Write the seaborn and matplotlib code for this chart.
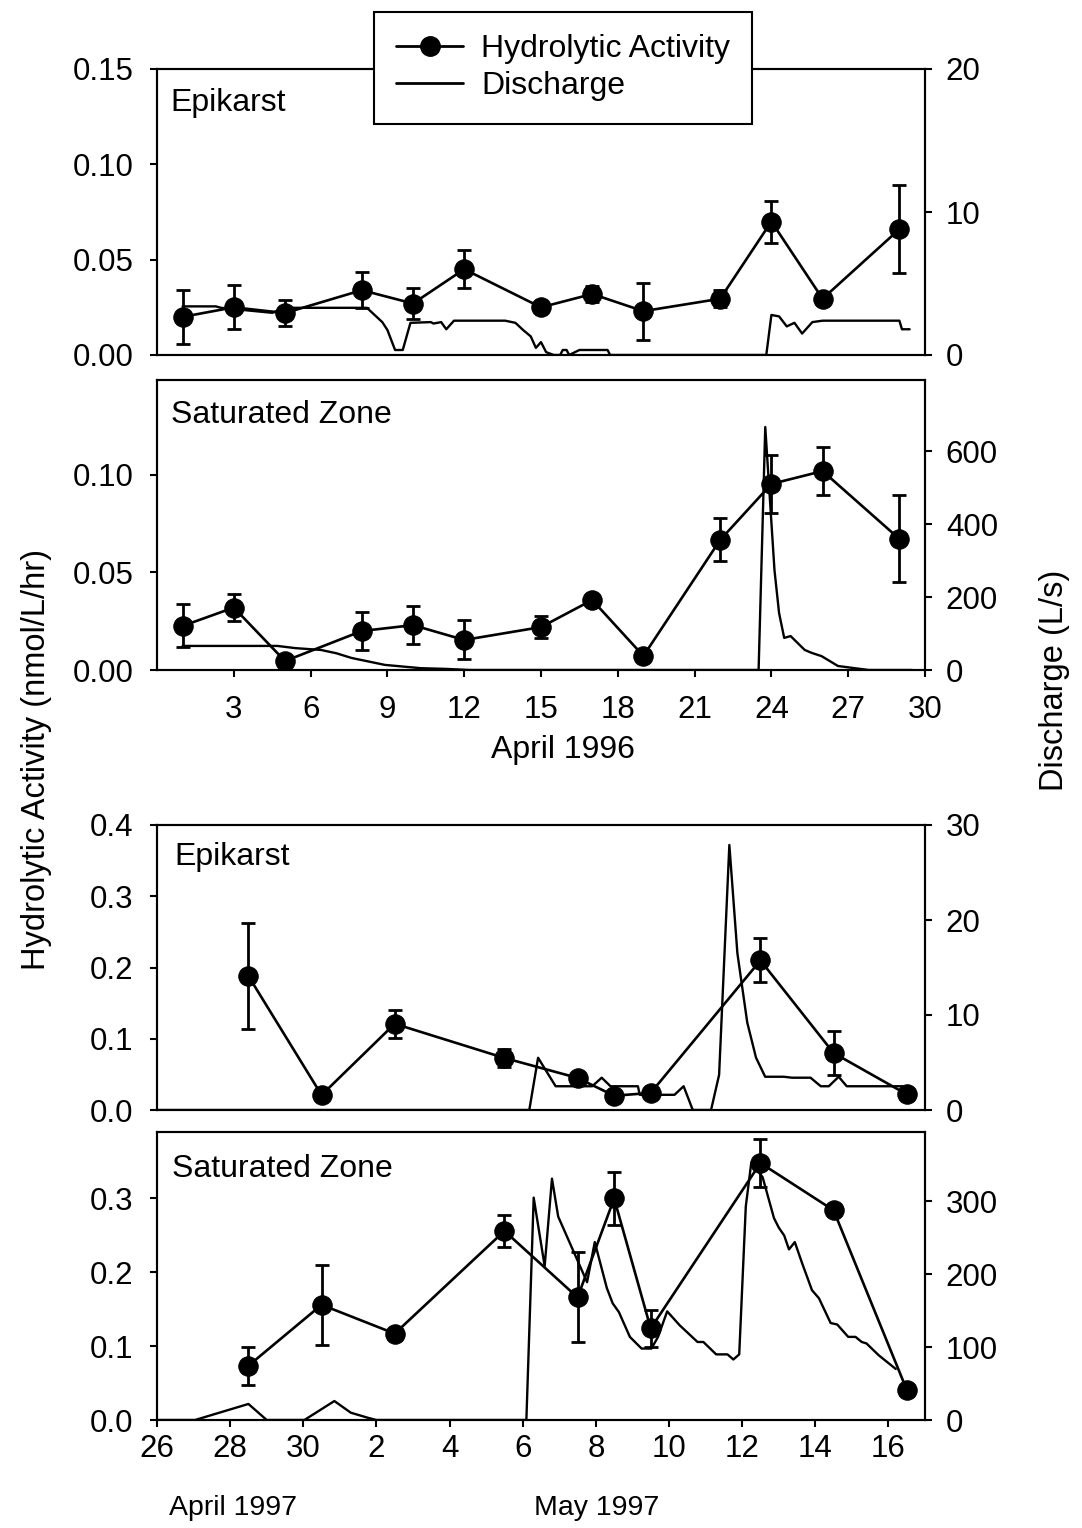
import numpy as np
import pandas as pd
import matplotlib
matplotlib.use("Agg")
import matplotlib.pyplot as plt
from matplotlib.lines import Line2D
import seaborn as sns

# ---------------- data ----------------
# 1996 (day of April)
act_days_96 = [1, 3, 5, 8, 10, 12, 15, 17, 19, 22, 24, 26, 29]
epi_act_96 = [0.020, 0.025, 0.022, 0.034, 0.027, 0.045, 0.025, 0.032, 0.023, 0.0295, 0.070, 0.0295, 0.066]
epi_err_96 = [0.014, 0.0115, 0.0067, 0.0095, 0.008, 0.010, 0.002, 0.004, 0.015, 0.0045, 0.011, 0.001, 0.023]
sat_act_96 = [0.0226, 0.032, 0.0046, 0.020, 0.023, 0.0154, 0.022, 0.0359, 0.0072, 0.0667, 0.0954, 0.102, 0.0672]
sat_err_96 = [0.011, 0.007, 0.001, 0.0097, 0.0097, 0.010, 0.0056, 0.002, 0.002, 0.011, 0.015, 0.0123, 0.0223]

epi_q_days_96 = [1.0, 2.3, 2.5, 4.5, 5.0, 8.2, 8.5, 8.8, 9.0, 9.3, 9.6, 9.9, 10.7, 10.8, 11.1, 11.3, 11.6,
                 13.6, 14.0, 14.3, 14.6, 14.8, 15.0, 15.2, 15.5, 15.75, 15.85, 16.0, 16.1, 16.5, 17.6, 17.7,
                 23.8, 24.0, 24.3, 24.6, 24.9, 25.2, 25.6, 26.0, 29.0, 29.1, 29.4]
epi_q_96 = [3.4, 3.4, 3.3, 2.95, 3.3, 3.3, 2.8, 2.3, 1.75, 0.35, 0.35, 2.25, 2.3, 2.2, 2.3, 1.8, 2.4,
            2.4, 2.25, 1.75, 1.3, 0.5, 0.9, 0.2, 0.0, 0.0, 0.35, 0.35, 0.0, 0.35, 0.35, 0.0,
            0.0, 2.8, 2.7, 2.0, 2.25, 1.5, 2.3, 2.4, 2.4, 1.8, 1.8]

sat_q_days_96 = [1.0, 4.7, 5.4, 6.4, 7.0, 7.6, 8.9, 10.3, 11.3, 12.2, 23.5, 23.76, 24.12, 24.3, 24.5,
                 24.75, 25.3, 25.57, 25.96, 26.6, 27.25, 27.8, 29.5]
sat_q_96 = [66, 66, 60, 55, 46, 33, 14, 5, 3, 0, 0, 666, 274, 156, 88,
            93, 55, 47, 38, 11, 5, 0, 0]

# 1997 (days after 26 April)
act_days_97 = [2.5, 4.5, 6.5, 9.5, 11.5, 12.5, 13.5, 16.5, 18.5, 20.5]
epi_act_97 = [0.188, 0.021, 0.121, 0.073, 0.045, 0.020, 0.024, 0.210, 0.080, 0.022]
epi_err_97 = [0.074, 0.002, 0.020, 0.012, 0.003, 0.002, 0.002, 0.031, 0.031, 0.002]
sat_act_97 = [0.0735, 0.156, 0.117, 0.256, 0.166, 0.300, 0.124, 0.348, 0.284, 0.041]
sat_err_97 = [0.026, 0.054, 0.003, 0.022, 0.061, 0.036, 0.025, 0.033, 0.003, 0.003]

epi_q_days_97 = [0, 10.18, 10.42, 10.9, 11.9, 12.16, 12.4, 13.15, 13.2, 14.15, 14.4, 14.65, 15.15, 15.37,
                 15.65, 15.87, 16.14, 16.38, 16.63, 17.14, 17.36, 17.87, 18.15, 18.37, 18.64, 18.86, 20.4]
epi_q_97 = [0, 0, 5.5, 2.5, 2.5, 3.4, 2.5, 2.5, 1.6, 1.6, 2.5, 0, 0, 3.7,
            27.9, 16.5, 9.2, 5.5, 3.5, 3.5, 3.4, 3.4, 2.5, 2.5, 3.5, 2.5, 2.5]

sat_q_days_97 = [0, 1.04, 2.5, 3.0, 4.03, 4.85, 5.3, 5.77, 6.0, 10.1, 10.3, 10.6, 10.8, 10.97, 11.76,
                 11.97, 12.3, 12.46, 12.63, 12.93, 13.25, 13.52, 13.7, 13.95, 14.29, 14.78, 14.94,
                 15.29, 15.6, 15.76, 15.92, 16.1, 16.25, 16.56, 16.87, 17.0, 17.15, 17.28, 17.44,
                 17.64, 17.91, 18.1, 18.42, 18.6, 18.9, 19.1, 19.27, 19.4, 19.73, 20.2]
sat_q_97 = [0, 0, 22, 0, 0, 26, 10, 3, 0, 0, 305, 211, 331, 279, 189,
            244, 181, 160, 148, 114, 98, 98, 114, 149, 130, 107, 107,
            90, 90, 83, 90, 293, 353, 333, 277, 264, 253, 234, 244,
            215, 178, 167, 133, 131, 114, 114, 107, 105, 89, 70]

ticks_96 = [3, 6, 9, 12, 15, 18, 21, 24, 27, 30]
ticks_97 = [0, 2, 4, 6, 8, 10, 12, 14, 16, 18, 20]
ticklabels_97 = ["26", "28", "30", "2", "4", "6", "8", "10", "12", "14", "16"]

# ---------------- style ----------------
sns.set_theme(style="ticks")
plt.rcParams["font.family"] = ["Liberation Sans", "DejaVu Sans"]
plt.rcParams["text.color"] = "black"
plt.rcParams["axes.labelcolor"] = "black"
plt.rcParams["axes.linewidth"] = 1.5
plt.rcParams["xtick.major.width"] = 1.5
plt.rcParams["ytick.major.width"] = 1.5
plt.rcParams["xtick.major.size"] = 5
plt.rcParams["ytick.major.size"] = 5
plt.rcParams["xtick.direction"] = "out"
plt.rcParams["ytick.direction"] = "out"
plt.rcParams["axes.edgecolor"] = "black"
plt.rcParams["xtick.color"] = "black"
plt.rcParams["ytick.color"] = "black"
plt.rcParams["xtick.labelcolor"] = "black"
plt.rcParams["ytick.labelcolor"] = "black"

FS = 22.5
FT = 23
W, H = 1082, 1528
fig = plt.figure(figsize=(W / 100, H / 100), dpi=100)


def pos(top, bottom, left=157, right=925):
    return [left / W, 1 - bottom / H, (right - left) / W, (bottom - top) / H]


panels = [
    dict(rect=pos(69, 355), xlim=(0, 30), ylim=(0, 0.15), y2lim=(0, 20),
         yticks=[0, 0.05, 0.10, 0.15], yfmt="{:.2f}", y2ticks=[0, 10, 20],
         ad=act_days_96, a=epi_act_96, e=epi_err_96, qd=epi_q_days_96, q=epi_q_96,
         label="Epikarst", ly=0.935, lx=0.018, xt=None),
    dict(rect=pos(380, 670), xlim=(0, 30), ylim=(0, 0.1487), y2lim=(0, 795),
         yticks=[0, 0.05, 0.10], yfmt="{:.2f}", y2ticks=[0, 200, 400, 600],
         ad=act_days_96, a=sat_act_96, e=sat_err_96, qd=sat_q_days_96, q=sat_q_96,
         label="Saturated Zone", ly=0.93, lx=0.018, xt="96"),
    dict(rect=pos(825, 1110), xlim=(0, 21), ylim=(0, 0.4), y2lim=(0, 30),
         yticks=[0, 0.1, 0.2, 0.3, 0.4], yfmt="{:.1f}", y2ticks=[0, 10, 20, 30],
         ad=act_days_97, a=epi_act_97, e=epi_err_97, qd=epi_q_days_97, q=epi_q_97,
         label="Epikarst", ly=0.94, lx=0.022, xt=None),
    dict(rect=pos(1132, 1420), xlim=(0, 21), ylim=(0, 0.39), y2lim=(0, 395),
         yticks=[0, 0.1, 0.2, 0.3], yfmt="{:.1f}", y2ticks=[0, 100, 200, 300],
         ad=act_days_97, a=sat_act_97, e=sat_err_97, qd=sat_q_days_97, q=sat_q_97,
         label="Saturated Zone", ly=0.925, lx=0.02, xt="97"),
]

for p in panels:
    ax = fig.add_axes(p["rect"])
    ax2 = ax.twinx()
    # discharge
    dq = pd.DataFrame({"day": p["qd"], "Q": p["q"]})
    sns.lineplot(data=dq, x="day", y="Q", ax=ax2, color="black", linewidth=1.7,
                 estimator=None, sort=False)
    # activity
    da = pd.DataFrame({"day": p["ad"], "act": p["a"], "err": p["e"]})
    ax.errorbar(da["day"], da["act"], yerr=da["err"], fmt="none", ecolor="black",
                elinewidth=2.0, capsize=5, capthick=2.0, zorder=2)
    sns.lineplot(data=da, x="day", y="act", ax=ax, color="black", linewidth=1.9,
                 marker="o", markersize=14, markeredgecolor="black",
                 markerfacecolor="black", estimator=None, sort=False, zorder=3)
    ax.set_zorder(ax2.get_zorder() + 1)
    ax.patch.set_visible(False)

    ax.set_xlim(*p["xlim"])
    ax.set_ylim(*p["ylim"])
    ax2.set_ylim(*p["y2lim"])
    ax.set_yticks(p["yticks"])
    ax.set_yticklabels([p["yfmt"].format(v) for v in p["yticks"]], fontsize=FS)
    ax2.set_yticks(p["y2ticks"])
    ax2.set_yticklabels([str(v) for v in p["y2ticks"]], fontsize=FS)
    ax.set_xlabel("")
    ax.set_ylabel("")
    ax2.set_xlabel("")
    ax2.set_ylabel("")
    ax.tick_params(axis="y", pad=12)
    ax2.tick_params(axis="y", pad=10)
    if p["xt"] == "96":
        ax.set_xticks(ticks_96)
        ax.set_xticklabels([str(t) for t in ticks_96], fontsize=FS)
        ax.tick_params(axis="x", pad=13)
    elif p["xt"] == "97":
        ax.set_xticks(ticks_97)
        ax.set_xticklabels(ticklabels_97, fontsize=FS)
        ax.tick_params(axis="x", pad=5)
    else:
        ax.set_xticks([])
    for s in ax.spines.values():
        s.set_visible(True)
        s.set_linewidth(1.5)
    ax2.spines["right"].set_linewidth(1.5)
    ax.text(p["lx"], p["ly"], p["label"], transform=ax.transAxes, fontsize=FT,
            va="top", ha="left")

fig.text(563 / W, 1 - 750 / H, "April 1996", fontsize=FT, ha="center", va="center")
fig.text(233 / W, 1 - 1508 / H, "April 1997", fontsize=20.5, ha="center", va="center")
fig.text(597 / W, 1 - 1508 / H, "May 1997", fontsize=20.5, ha="center", va="center")
fig.text(37 / W, 1 - 760 / H, "Hydrolytic Activity (nmol/L/hr)", fontsize=23.5,
         rotation=90, ha="center", va="center")
fig.text(1055 / W, 1 - 680 / H, "Discharge (L/s)", fontsize=23.5,
         rotation=90, ha="center", va="center")

handles = [Line2D([0], [0], color="black", linewidth=2.0, marker="o", markersize=14),
           Line2D([0], [0], color="black", linewidth=2.0)]
leg = fig.legend(handles, ["Hydrolytic Activity", "Discharge"], loc="upper left",
                 bbox_to_anchor=(374 / W, 1 - 12 / H), fontsize=FT, frameon=True,
                 fancybox=False, framealpha=1, edgecolor="black", handlelength=2.1,
                 borderpad=0.7, labelspacing=0.22, handletextpad=0.55, borderaxespad=0)
leg.get_frame().set_linewidth(1.5)
leg.set_zorder(10)

fig.savefig("out.png", dpi=100)
